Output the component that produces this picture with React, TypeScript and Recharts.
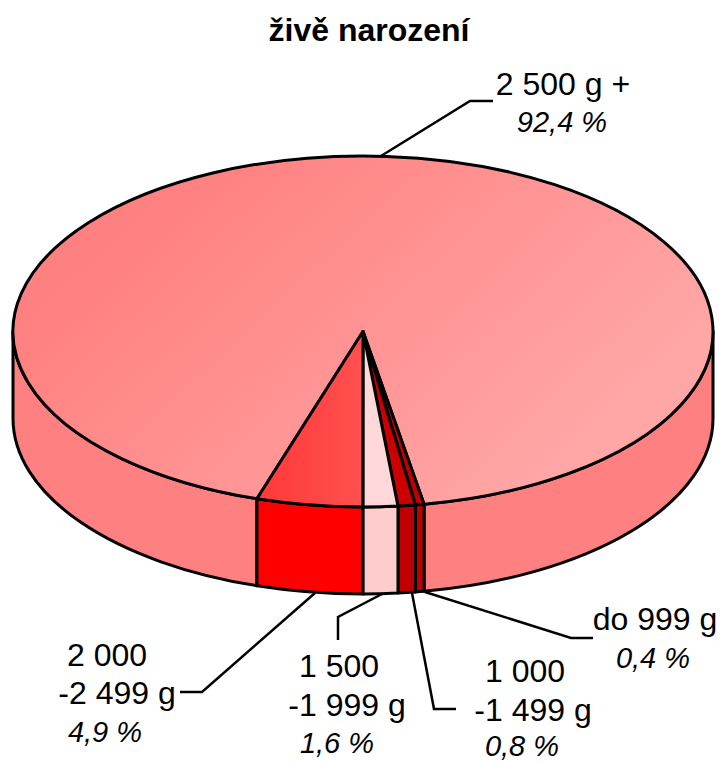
import React from "react"
import { PieChart, Pie } from "recharts"

const title = "živě narození"
const categories = ["2 500 g +", "do 999 g", "1 000 -1 499 g", "1 500 -1 999 g", "2 000 -2 499 g"]
const shares = [92.4, 0.4, 0.8, 1.6, 4.9]
const shareLabels = ["92,4 %", "0,4 %", "0,8 %", "1,6 %", "4,9 %"]
const topFills = ["url(#topBig)", "#c00000", "#cc0000", "#ffd9d9", "url(#topRed)"]
const sideFills = ["#ff8080", "#c00000", "#c00000", "#ffcccc", "#ff0000"]

const data = categories.map((name, i) => ({ name, value: shares[i] }))

const W = 721
const H = 762
const CX = 363
const CY = 331.5
const RX = 350
const RY = 175.5
const DEPTH = 87
const START = -107.64
const FONT = "'Liberation Sans', Arial, sans-serif"
const STROKE = 3

// text rows and leader lines, per slice
const labelLayout = [
  {
    line: "381,156 470,101 493,101",
    rows: [{ t: "2 500 g +", x: 563, y: 95 }, { t: shareLabels[0], x: 562, y: 132, it: true }],
  },
  {
    line: "425,592 571,638 593,638",
    rows: [{ t: "do 999 g", x: 655, y: 630 }, { t: shareLabels[1], x: 653, y: 668, it: true }],
  },
  {
    line: "412,593 434,709 456,709",
    rows: [
      { t: "1 000", x: 525, y: 682 },
      { t: "-1 499 g", x: 533, y: 721 },
      { t: shareLabels[2], x: 522, y: 756, it: true },
    ],
  },
  {
    line: "382,594 338,617 338,640",
    rows: [
      { t: "1 500", x: 339, y: 677 },
      { t: "-1 999 g", x: 347, y: 716 },
      { t: shareLabels[3], x: 337, y: 753, it: true },
    ],
  },
  {
    line: "315,593 202,692 180,692",
    rows: [
      { t: "2 000", x: 107, y: 666 },
      { t: "-2 499 g", x: 117, y: 704 },
      { t: shareLabels[4], x: 105, y: 742, it: true },
    ],
  },
]

const pt = (deg: number, dy = 0) => {
  const a = (deg * Math.PI) / 180
  return `${CX + RX * Math.cos(a)} ${CY - RY * Math.sin(a) + dy}`
}

// slice on the flattened top face
const TopSlice = (props: any) => {
  const { startAngle, endAngle, index } = props
  const large = Math.abs(startAngle - endAngle) > 180 ? 1 : 0
  const d = `M ${CX} ${CY} L ${pt(startAngle)} A ${RX} ${RY} 0 ${large} 1 ${pt(endAngle)} Z`
  return <path d={d} fill={topFills[index]} stroke="#000" strokeWidth={STROKE} strokeLinejoin="round" />
}

// wall below a slice, only the part facing the viewer
const SideSlice = (props: any) => {
  const { startAngle, endAngle, index } = props
  const parts = []
  for (const k of [0, -1, -2]) {
    const s = Math.min(startAngle, k * 360)
    const e = Math.max(endAngle, k * 360 - 180)
    if (s > e) {
      parts.push(
        <path
          key={k}
          d={`M ${pt(s)} A ${RX} ${RY} 0 0 1 ${pt(e)} L ${pt(e, DEPTH)} A ${RX} ${RY} 0 0 0 ${pt(s, DEPTH)} Z`}
          fill={sideFills[index]}
          stroke="#000"
          strokeWidth={STROKE}
          strokeLinejoin="round"
        />
      )
    }
  }
  return <g>{parts}</g>
}

const renderLabel = (props: any) => {
  const item = labelLayout[props.index]
  return (
    <g key={props.index}>
      <polyline points={item.line} fill="none" stroke="#000" strokeWidth={2.5} />
      {item.rows.map((r) => (
        <text
          key={r.t}
          x={r.x}
          y={r.y}
          textAnchor="middle"
          fontFamily={FONT}
          fontSize={r.it ? 29 : 32}
          fontStyle={r.it ? "italic" : "normal"}
          fill="#000"
        >
          {r.t}
        </text>
      ))}
    </g>
  )
}

export default function App() {
  return (
    <div style={{ position: "absolute", left: 0, top: 0, width: W, height: H, background: "#fff" }}>
      <PieChart width={W} height={H} margin={{ top: 0, right: 0, bottom: 0, left: 0 }}>
        <defs>
          <linearGradient id="topBig" gradientUnits="userSpaceOnUse" x1={200} y1={160} x2={520} y2={500}>
            <stop offset="0" stopColor="#ff8080" />
            <stop offset="1" stopColor="#ffa6a6" />
          </linearGradient>
          <linearGradient id="topRed" gradientUnits="userSpaceOnUse" x1={262} y1={420} x2={363} y2={420}>
            <stop offset="0" stopColor="#ff3a3a" />
            <stop offset="1" stopColor="#ff5050" />
          </linearGradient>
        </defs>
        <Pie
          data={data}
          dataKey="value"
          cx={CX}
          cy={CY}
          outerRadius={RX}
          startAngle={START}
          endAngle={START - 360}
          stroke="none"
          shape={SideSlice}
          isAnimationActive={false}
        />
        <Pie
          data={data}
          dataKey="value"
          cx={CX}
          cy={CY}
          outerRadius={RX}
          startAngle={START}
          endAngle={START - 360}
          stroke="none"
          shape={TopSlice}
          label={renderLabel}
          labelLine={false}
          isAnimationActive={false}
        />
        <text x={369} y={41} textAnchor="middle" fontFamily={FONT} fontSize={32} fontWeight="bold" fill="#000">
          {title}
        </text>
      </PieChart>
    </div>
  )
}
